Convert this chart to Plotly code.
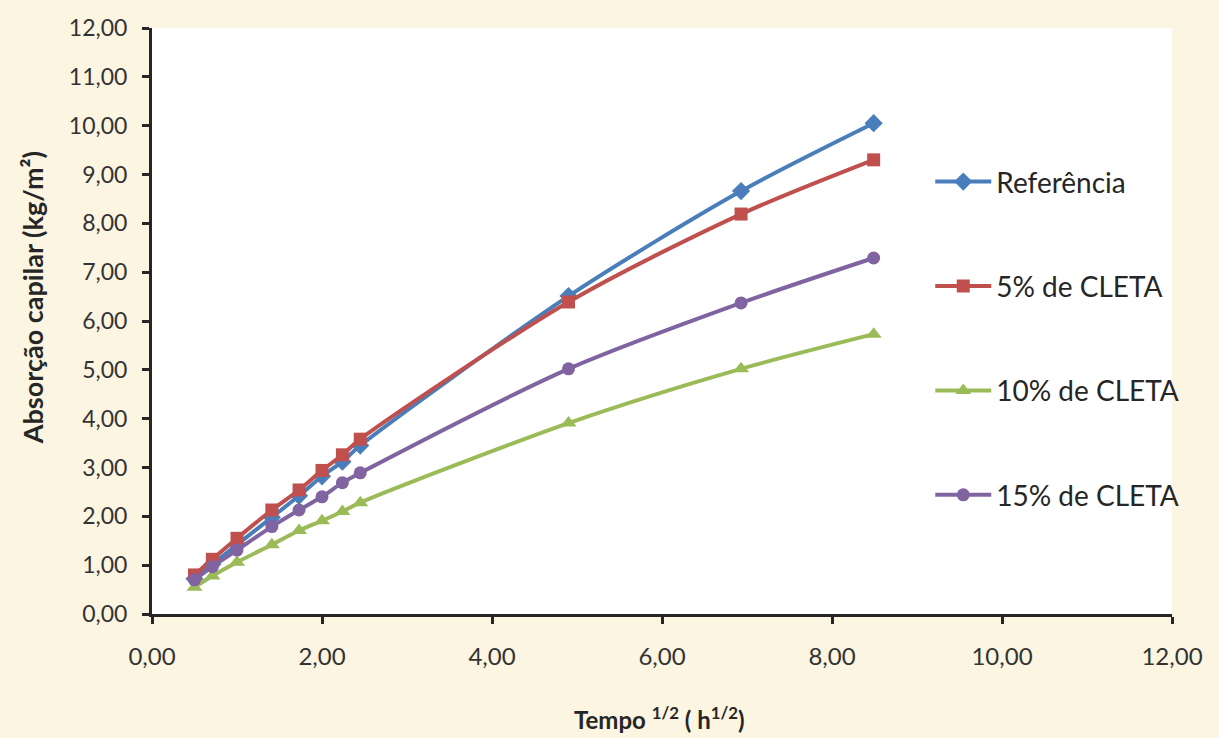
import plotly.graph_objects as go

x_vals = [0.50, 0.71, 1.00, 1.41, 1.73, 2.00, 2.24, 2.45, 4.90, 6.93, 8.49]

series_names = ["Referência", "5% de CLETA", "10% de CLETA", "15% de CLETA"]
ref_vals = [0.72, 1.02, 1.42, 1.98, 2.42, 2.82, 3.12, 3.45, 6.51, 8.66, 10.05]
cleta5_vals = [0.80, 1.12, 1.55, 2.13, 2.54, 2.94, 3.26, 3.58, 6.39, 8.19, 9.30]
cleta10_vals = [0.55, 0.78, 1.06, 1.42, 1.71, 1.91, 2.10, 2.28, 3.91, 5.02, 5.73]
cleta15_vals = [0.70, 0.97, 1.31, 1.79, 2.13, 2.40, 2.69, 2.89, 5.02, 6.37, 7.29]

colors = ["#4A7EBB", "#C0504D", "#9BBB59", "#8064A2"]
symbols = ["diamond", "square", "triangle-up", "circle"]
sizes = [14, 13, 14, 13]
all_vals = [ref_vals, cleta5_vals, cleta10_vals, cleta15_vals]

fig = go.Figure()
for i, (name, vals) in enumerate(zip(series_names, all_vals)):
    fig.add_trace(go.Scatter(
        x=x_vals, y=vals, name=name, mode="lines+markers",
        line=dict(color=colors[i], width=4, shape="spline", smoothing=0.8),
        marker=dict(symbol=symbols[i], size=sizes[i], color=colors[i]),
        legendgroup=name,
    ))

font_family = "Lato, 'Open Sans', sans-serif"

fig.update_layout(
    width=1219, height=738,
    paper_bgcolor="#FBF5E2",
    plot_bgcolor="#FFFFFF",
    margin=dict(l=152, r=47, t=28, b=124, autoexpand=False),
    separators=", ",
    font=dict(family=font_family, color="#262626"),
    showlegend=True,
    legend=dict(
        x=0.763, y=0.78, xanchor="left", yanchor="top",
        bgcolor="rgba(0,0,0,0)",
        font=dict(size=28, family=font_family, color="#262626"),
        tracegroupgap=65,
        itemwidth=56,
    ),
    xaxis=dict(
        range=[0, 12], tickvals=[0, 2, 4, 6, 8, 10, 12], tickformat=".2f",
        showgrid=False, zeroline=False, automargin=False,
        showline=True, linecolor="#262626", linewidth=3,
        ticks="outside", ticklen=7, tickwidth=3, tickcolor="#262626",
        tickfont=dict(size=24, family=font_family, color="#333333"),
        ticklabelstandoff=12,
    ),
    yaxis=dict(
        range=[0, 12], dtick=1, tickformat=".2f",
        showgrid=False, zeroline=False, automargin=False,
        showline=True, linecolor="#262626", linewidth=3,
        ticks="outside", ticklen=7, tickwidth=3, tickcolor="#262626",
        tickfont=dict(size=23, family=font_family, color="#333333"),
        ticklabelstandoff=10,
    ),
    annotations=[
        dict(
            text="<b>Absorção capilar (kg/m²)</b>", textangle=-90,
            xref="paper", yref="paper", x=-0.117, y=0.54,
            xanchor="center", yanchor="middle", showarrow=False,
            font=dict(size=27, family=font_family, color="#262626"),
        ),
        dict(
            text="<b>Tempo <sup>1/2</sup> ( h<sup>1/2</sup>)</b>",
            xref="paper", yref="paper", x=0.498, y=-0.177,
            xanchor="center", yanchor="middle", showarrow=False,
            font=dict(size=24, family=font_family, color="#262626"),
        ),
    ],
)

fig.write_html("out.html")
